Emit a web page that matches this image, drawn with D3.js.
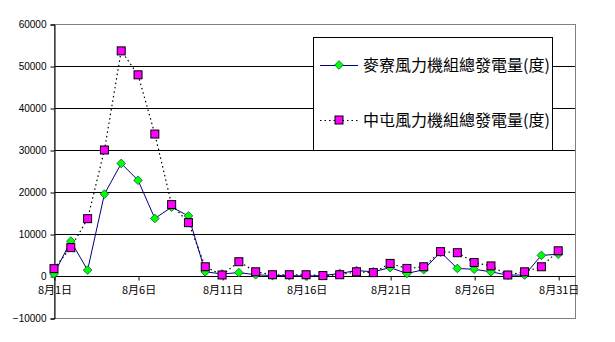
<!DOCTYPE html>
<html>
<head>
<meta charset="utf-8">
<script src="https://cdn.jsdelivr.net/npm/d3@7"></script>
<style>
  body { margin: 0; background: #fff; }
  text { font-family: "Liberation Sans", Arial, "Noto Sans CJK TC", sans-serif; }
</style>
</head>
<body>
<svg id="chart" width="615" height="342"></svg>
<script>
// ****************************************
// Data

var days = d3.range(1, 32).map(d => '8月' + d + '日');
var mailiao = [500, 8300, 1400, 19500, 26800, 22800, 13700, 16400, 14300, 1000,
               500, 800, 300, 100, 100, 0, 100, 600, 1300, 1000,
               2000, 600, 1500, 5700, 1800, 1600, 1000, 200, 240, 4900, 5200];
var zhongtun = [1750, 6750, 13650, 30000, 53600, 47900, 33800, 17000, 12700, 2200,
                240, 3400, 1000, 300, 300, 300, 100, 300, 1000, 800,
                3000, 1800, 2200, 5800, 5550, 3200, 2400, 240, 1000, 2200, 6000];
var series_names = ['麥寮風力機組總發電量(度)', '中屯風力機組總發電量(度)'];
var y_ticks = [-10000, 0, 10000, 20000, 30000, 40000, 50000, 60000];
var label_every = 5;

// ****************************************
// Layout

var plot = { left: 54, right: 575, top: 24, bottom: 318 };
var svg = d3.select('#chart');

var x = d3.scaleLinear().domain([0, 31]).range([plot.left, plot.right]);
var y = d3.scaleLinear().domain([-10000, 60000]).range([plot.bottom, plot.top]);

// gridlines
svg.append('g').selectAll('line').data(y_ticks.filter(v => v > 0 && v < 60000)).join('line')
  .attr('x1', plot.left).attr('x2', plot.right)
  .attr('y1', d => y(d) + 0.5).attr('y2', d => y(d) + 0.5)
  .attr('stroke', '#000').attr('stroke-width', 1);

// plot border
svg.append('rect')
  .attr('x', plot.left + 0.5).attr('y', plot.top + 0.5)
  .attr('width', plot.right - plot.left).attr('height', plot.bottom - plot.top)
  .attr('fill', 'none').attr('stroke', '#808080');

// y axis
var y_axis = svg.append('g').attr('transform', 'translate(' + (plot.left + 0.5) + ',0.5)')
  .call(d3.axisLeft(y).tickValues(y_ticks).tickSize(4).tickPadding(4).tickFormat(d3.format('d')));
y_axis.selectAll('path, line').attr('stroke', '#000');
y_axis.selectAll('text').style('font-size', '10px').attr('fill', '#000')
  .style('font-family', '"Liberation Sans", Arial, sans-serif');

// x axis at zero
var x_axis = svg.append('g').attr('transform', 'translate(0.5,' + (y(0) + 0.5) + ')')
  .call(d3.axisBottom(x).tickValues(d3.range(0, 31, label_every)).tickSize(4).tickPadding(6)
    .tickFormat(i => days[i]));
x_axis.select('.domain').attr('d', 'M' + plot.left + ',0H' + plot.right).attr('stroke', '#000');
x_axis.selectAll('line').attr('stroke', '#000');
x_axis.selectAll('text').style('font-size', '11px').attr('fill', '#000')
  .style('font-family', '"Noto Sans CJK TC", sans-serif');

// ****************************************
// Series

var line = d3.line().x((d, i) => x(i)).y(d => y(d));

svg.append('path').datum(zhongtun).attr('d', line)
  .attr('fill', 'none').attr('stroke', '#000').attr('stroke-width', 1.2)
  .attr('stroke-dasharray', '1.5 3');
svg.append('path').datum(mailiao).attr('d', line)
  .attr('fill', 'none').attr('stroke', '#000080').attr('stroke-width', 1);

var diamond = d3.symbol().type(d3.symbolDiamond2).size(48);

svg.append('g').selectAll('path').data(mailiao).join('path')
  .attr('transform', (d, i) => 'translate(' + x(i) + ',' + y(d) + ')')
  .attr('d', diamond).attr('fill', '#00ff00').attr('stroke', '#006040').attr('stroke-width', 0.8);

svg.append('g').selectAll('rect').data(zhongtun).join('rect')
  .attr('x', (d, i) => x(i) - 4).attr('y', d => y(d) - 4)
  .attr('width', 8).attr('height', 8)
  .attr('fill', '#ff00ff').attr('stroke', '#000').attr('stroke-width', 1);

// ****************************************
// Legend

var legend = svg.append('g');
legend.append('rect').attr('x', 313.5).attr('y', 37.5).attr('width', 239).attr('height', 113)
  .attr('fill', '#fff').attr('stroke', '#000');

var rows = [65, 120];
legend.append('line').attr('x1', 320).attr('x2', 358).attr('y1', rows[0] + 0.5).attr('y2', rows[0] + 0.5)
  .attr('stroke', '#000080');
legend.append('path').attr('transform', 'translate(339,' + rows[0] + ')').attr('d', diamond)
  .attr('fill', '#00ff00').attr('stroke', '#006040').attr('stroke-width', 0.8);
legend.append('line').attr('x1', 320).attr('x2', 358).attr('y1', rows[1] + 0.5).attr('y2', rows[1] + 0.5)
  .attr('stroke', '#000').attr('stroke-dasharray', '1.5 3');
legend.append('rect').attr('x', 335).attr('y', rows[1] - 4).attr('width', 8).attr('height', 8)
  .attr('fill', '#ff00ff').attr('stroke', '#000');

legend.selectAll('text.lbl').data(series_names).join('text').attr('class', 'lbl')
  .attr('x', 363).attr('y', (d, i) => rows[i]).attr('dy', '0.35em')
  .style('font-size', '16px').style('font-family', '"Noto Sans CJK TC", sans-serif')
  .text(d => d);
</script>
</body>
</html>
